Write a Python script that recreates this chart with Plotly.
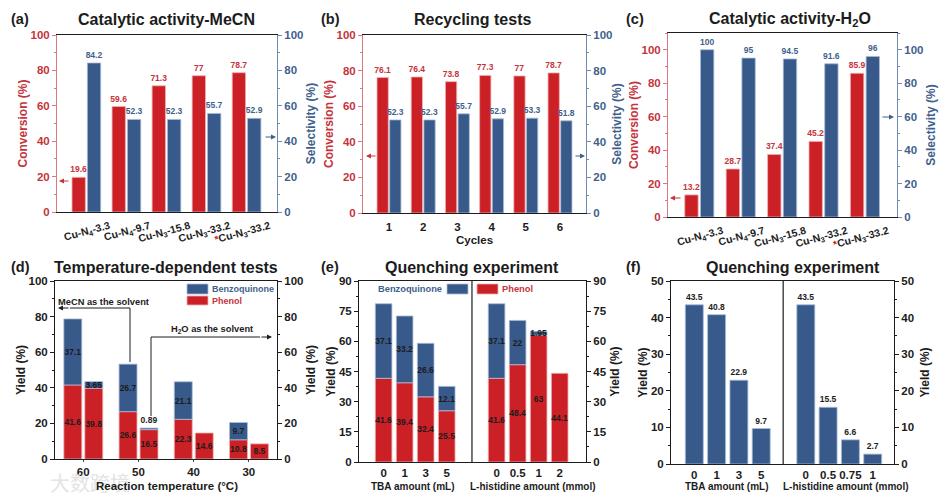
import plotly.graph_objects as go

# ---------- data ----------
catalysts = ["Cu-N<sub>4</sub>-3.3", "Cu-N<sub>4</sub>-9.7", "Cu-N<sub>3</sub>-15.8", "Cu-N<sub>3</sub>-33.2",
             "<span style='color:#cc2027'>*</span>Cu-N<sub>3</sub>-33.2"]
a_conv = [19.6, 59.6, 71.3, 77, 78.7]
a_sel = [84.2, 52.3, 52.3, 55.7, 52.9]
cycles = ["1", "2", "3", "4", "5", "6"]
b_conv = [76.1, 76.4, 73.8, 77.3, 77, 78.7]
b_sel = [52.3, 52.3, 55.7, 52.9, 53.3, 51.8]
c_conv = [13.2, 28.7, 37.4, 45.2, 85.9]
c_sel = [100, 95, 94.5, 91.6, 96]
temps = ["60", "50", "40", "30"]
d_mecn_phenol = [41.6, 26.6, 22.3, 10.8]
d_mecn_bq = [37.1, 26.7, 21.1, 9.7]
d_h2o_phenol = [39.8, 16.5, 14.6, 8.5]
d_h2o_bq = [3.65, 0.89, None, None]
e_ticks = ["0", "1", "3", "5", "0", "0.5", "1", "2"]
e_phenol = [41.6, 39.4, 32.4, 25.5, 41.6, 48.4, 63, 44.1]
e_bq = [37.1, 33.2, 26.6, 12.1, 37.1, 22, 1.95, None]
f_ticks = ["0", "1", "3", "5", "0", "0.5", "0.75", "1"]
f_yield = [43.5, 40.8, 22.9, 9.7, 43.5, 15.5, 6.6, 2.7]

# ---------- style ----------
W, H = 945, 501
RED, BLUE = "#cc2027", "#385a8a"
RED_TXT, BLUE_TXT = "#c4343c", "#3f5f8c"
RED_EDGE, BLUE_EDGE = "#f0b0b0", "#a9bdd8"
DARK = "#1c1c1c"
FONT = "Liberation Sans"


def fx(p):
    return p / W


def fy(p):
    return 1 - p / H


def bold(size, color=DARK):
    return dict(family=FONT, size=size, color=color, weight=700)


fig = go.Figure()
annotations, shapes, axes = [], [], {}

# image watermark, beneath the captions
annotations.append(dict(text="大数跨境", x=fx(48), y=fy(482), xref="paper", yref="paper", showarrow=False,
                        xanchor="left", yanchor="middle",
                        font=dict(family="Noto Sans CJK SC", size=20, color="#e4e4e4")))


def label(text, x, y, size, color=DARK, angle=0, anchor="center"):
    annotations.append(dict(text=text, x=fx(x), y=fy(y), xref="paper", yref="paper", showarrow=False,
                            font=bold(size, color), textangle=angle, xanchor=anchor, yanchor="middle"))


def arrow(x0, y0, x1, y1, color, width=1):
    annotations.append(dict(x=fx(x1), y=fy(y1), ax=x0 - x1, ay=y0 - y1, xref="paper", yref="paper",
                            axref="pixel", ayref="pixel", text="", showarrow=True, arrowhead=2,
                            arrowsize=1, arrowwidth=width, arrowcolor=color))


def panel(n, box, xrange, ymax, dtick, tickvals, ticktext, left_color=DARK, right_color=DARK,
          left_title="Yield (%)", right_title="Yield (%)", left_line=DARK, right_line=DARK,
          left_standoff=0, right_standoff=4, tick_size=11, x_kw=None):
    x0, y0, x1, y1 = box
    xid, yl, yr = f"xaxis{n}", f"yaxis{2*n-1}", f"yaxis{2*n}"
    xa = dict(domain=[fx(x0), fx(x1)], range=xrange, anchor=f"y{2*n-1}", tickmode="array",
              tickvals=tickvals, ticktext=ticktext, tickfont=bold(tick_size), showgrid=False,
              zeroline=False, showline=True, linecolor=DARK, linewidth=1, mirror=True, ticks="",
              automargin=False)
    xa.update(x_kw or {})
    axes[xid] = xa
    common = dict(domain=[fy(y1), fy(y0)], range=[0, ymax], dtick=dtick, tick0=0, showgrid=False, zeroline=False,
                  showline=True, linewidth=1, ticks="outside", ticklen=4, tickwidth=1,
                  anchor=f"x{n}", automargin=False)
    axes[yl] = dict(common, side="left", linecolor=left_line, tickcolor=left_line,
                    tickfont=bold(11.5, left_color),
                    title=dict(text=left_title, font=bold(12, left_color), standoff=left_standoff),
                    minor=dict(ticks="outside", ticklen=2, dtick=dtick / 2, tick0=0, tickcolor=left_line))
    axes[yr] = dict(common, side="right", overlaying=f"y{2*n-1}", linecolor=right_line, tickcolor=right_line,
                    tickfont=bold(11.5, right_color),
                    title=dict(text=right_title, font=bold(12, right_color), standoff=right_standoff),
                    minor=dict(ticks="outside", ticklen=2, dtick=dtick / 2, tick0=0, tickcolor=right_line))


def bars(n, right, x, y, color, edge, offset, width, base=None, textcolor=DARK, pos="outside", size=8.5):
    # points without a value get no bar and no label
    keep = [i for i, v in enumerate(y) if v is not None]
    xs = [x[i] for i in keep]
    ys = [y[i] for i in keep]
    bs = None if base is None else [base[i] for i in keep]
    ps = [pos[i] for i in keep] if isinstance(pos, list) else pos
    fig.add_trace(go.Bar(x=xs, y=ys, base=bs, width=width, offset=offset, xaxis=f"x{n}",
                         yaxis=f"y{2*n if right else 2*n-1}",
                         marker=dict(color=color, line=dict(color=edge, width=0.8)),
                         text=[f"{v:g}" for v in ys],
                         textposition=ps, textangle=0, textfont=bold(size, textcolor), constraintext="none",
                         insidetextanchor="middle", cliponaxis=False, hoverinfo="skip", showlegend=False))


def ghost(n, x):
    # keeps the right-hand axis of a panel alive when no bar uses it
    fig.add_trace(go.Scatter(x=[x], y=[0], xaxis=f"x{n}", yaxis=f"y{2*n}", mode="markers",
                             marker=dict(opacity=0), hoverinfo="skip", showlegend=False))


idx5 = list(range(5))
idx6 = list(range(6))
idx4 = list(range(4))
rot = dict(tickangle=-15, ticklabelshift=23, ticklabelstandoff=3)

# (a)
panel(1, (57, 35, 277, 212), [-0.733, 4.76], 100, 20, idx5, catalysts, RED_TXT, BLUE_TXT, "Conversion (%)",
      "Selectivity (%)", "#d97a80", "#6f8bb0", tick_size=10.5, x_kw=rot)
bars(1, False, idx5, a_conv, RED, RED_EDGE, -0.358, 0.333, textcolor=RED_TXT)
bars(1, True, idx5, a_sel, BLUE, BLUE_EDGE, 0.025, 0.333, textcolor=BLUE_TXT)
# (b)
panel(2, (363, 35, 586, 213), [-0.76, 5.76], 100, 20, idx6, cycles, RED_TXT, BLUE_TXT, "Conversion (%)",
      "Selectivity (%)", "#d97a80", "#6f8bb0", tick_size=11.5, right_standoff=1,
      x_kw=dict(ticklabelstandoff=3))
bars(2, False, idx6, b_conv, RED, RED_EDGE, -0.35, 0.33, textcolor=RED_TXT)
bars(2, True, idx6, b_sel, BLUE, BLUE_EDGE, 0.02, 0.33, textcolor=BLUE_TXT)
# (c)
panel(3, (668, 33, 897, 217), [-0.76, 4.77], 110, 20, idx5, catalysts, RED_TXT, BLUE_TXT, "Conversion (%)",
      "Selectivity (%)", "#d97a80", "#6f8bb0", tick_size=10.5, x_kw=rot)
bars(3, False, idx5, c_conv, RED, RED_EDGE, -0.355, 0.323, textcolor=RED_TXT)
bars(3, True, idx5, c_sel, BLUE, BLUE_EDGE, 0.024, 0.323, textcolor=BLUE_TXT)
# (d)
panel(4, (55, 281, 277, 459), [-0.51, 3.51], 100, 20, idx4, temps,
      tick_size=11.5, x_kw=dict(ticks="outside", ticklen=2))
ghost(4, 0)
bars(4, False, idx4, d_mecn_phenol, RED, RED_EDGE, -0.35, 0.325, pos="inside")
bars(4, False, idx4, d_mecn_bq, BLUE, BLUE_EDGE, -0.35, 0.325, base=d_mecn_phenol, pos="inside")
bars(4, False, idx4, d_h2o_phenol, RED, RED_EDGE, 0.03, 0.325, pos="inside")
bars(4, False, idx4, d_h2o_bq, BLUE, BLUE_EDGE, 0.03, 0.325, base=d_h2o_phenol,
     pos=["inside", "outside", "none", "none"])
# (e)
e_x = [0, 1, 2, 3, 5.37, 6.37, 7.37, 8.37]
panel(5, (359, 281, 586, 462), [-1.17, 9.62], 90, 15, e_x, e_ticks, tick_size=11.5)
ghost(5, 0)
bars(5, False, e_x, e_phenol, RED, RED_EDGE, -0.395, 0.79, pos="inside")
bars(5, False, e_x, e_bq, BLUE, BLUE_EDGE, -0.395, 0.79, base=e_phenol, pos="inside")
shapes.append(dict(type="line", xref="x5", yref="y9", x0=4.2, x1=4.2, y0=0, y1=90,
                   line=dict(color=DARK, width=1.2)))
# (f)
f_x = [0, 1, 2, 3, 5, 6, 7, 8]
panel(6, (671, 281, 894, 464), [-1.045, 8.955], 50, 10, f_x, f_ticks, tick_size=11.5, right_standoff=7)
ghost(6, 0)
bars(6, False, f_x, f_yield, BLUE, BLUE_EDGE, -0.403, 0.806)
shapes.append(dict(type="line", xref="x6", yref="y11", x0=3.985, x1=3.985, y0=0, y1=50,
                   line=dict(color=DARK, width=1.2)))

# titles and panel letters
for text, x, y in [("Catalytic activity-MeCN", 166, 19), ("Recycling tests", 472, 19),
                   ("Catalytic activity-H<sub>2</sub>O", 790, 19), ("Temperature-dependent tests", 166, 267),
                   ("Quenching experiment", 472, 267), ("Quenching experiment", 793, 267)]:
    label(text, x, y, 16)
for text, x, y in [("(a)", 20, 19), ("(b)", 330, 19), ("(c)", 635, 19),
                   ("(d)", 20, 267), ("(e)", 330, 267), ("(f)", 633, 267)]:
    label(text, x, y, 14.5)

# x-axis captions
label("Cycles", 474, 240, 11.5)
label("Reaction temperature (°C)", 167, 486, 11.5)
label("TBA amount (mL)", 413, 486, 10)
label("L-histidine amount (mmol)", 533, 486, 10)
label("TBA amount (mL)", 727, 486, 10)
label("L-histidine amount (mmol)", 846, 486, 10)

# side arrows
arrow(70, 181, 59, 181, RED_TXT)
arrow(264, 137, 276, 137, BLUE_TXT)
arrow(377, 156, 366, 156, RED_TXT)
arrow(574, 156, 585, 156, BLUE_TXT)
arrow(682, 198, 670, 198, RED_TXT)
arrow(881, 117, 894, 117, BLUE_TXT)

# solvent arrows in (d)
shapes.append(dict(type="path", xref="paper", yref="paper", line=dict(color=DARK, width=1),
                   path=f"M{fx(130)},{fy(362)} L{fx(130)},{fy(308)} L{fx(70)},{fy(308)}"))
arrow(70, 308, 58, 308, DARK)
shapes.append(dict(type="path", xref="paper", yref="paper", line=dict(color=DARK, width=1),
                   path=f"M{fx(151)},{fy(416)} L{fx(151)},{fy(337)} L{fx(260)},{fy(337)}"))
arrow(260, 337, 272, 337, DARK)
label("MeCN as the solvent", 103, 302, 9.3)
label("H<sub>2</sub>O as the solvent", 212, 329, 9.3)


def swatch(x0, y0, x1, y1, color, edge):
    shapes.append(dict(type="rect", xref="paper", yref="paper", x0=fx(x0), x1=fx(x1), y0=fy(y0), y1=fy(y1),
                       fillcolor=color, line=dict(color=edge, width=0.8)))


# legends
swatch(187, 284, 208, 294, BLUE, BLUE_EDGE)
swatch(187, 296, 208, 305, RED, RED_EDGE)
label("Benzoquinone", 210, 289, 9, BLUE_TXT, anchor="left")
label("Phenol", 210, 301, 9, RED_TXT, anchor="left")
swatch(447, 284, 468, 294, BLUE, BLUE_EDGE)
swatch(477, 284, 498, 294, RED, RED_EDGE)
label("Benzoquinone", 444, 289, 9.3, BLUE_TXT, anchor="right")
label("Phenol", 500, 289, 9.3, RED_TXT, anchor="left")

fig.update_layout(width=W, height=H, margin=dict(l=0, r=0, t=0, b=0, autoexpand=False), autosize=False,
                  paper_bgcolor="white", plot_bgcolor="white", barmode="overlay",
                  annotations=annotations, shapes=shapes, **axes)
fig.write_html("out.html", post_script="document.body.style.margin='0';",
               config={"displayModeBar": False})
